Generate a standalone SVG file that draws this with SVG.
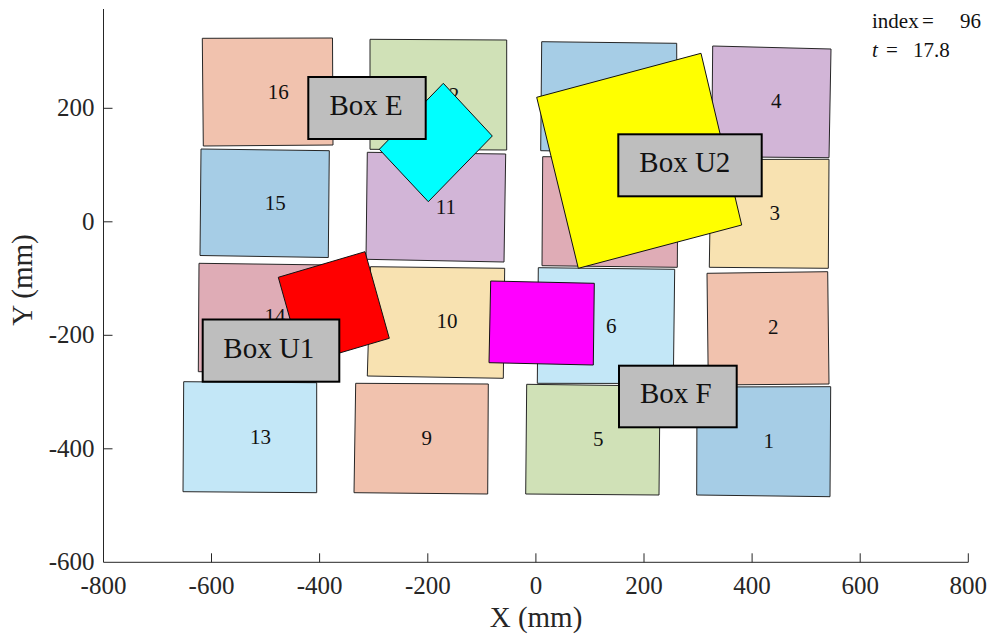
<svg xmlns="http://www.w3.org/2000/svg" width="992" height="638" viewBox="0 0 992 638">
  <style>
    .box { stroke: #262626; stroke-width: 1; stroke-linejoin: miter; }
    .salmon { fill: #f1c2ae; }
    .green { fill: #d0e1b7; }
    .blue { fill: #a6cde6; }
    .purple { fill: #d2b5d7; }
    .tan { fill: #f8e2b1; }
    .pink { fill: #dfacb6; }
    .sky { fill: #c3e7f7; }
    .num { font-family: "Liberation Serif", "DejaVu Serif", serif; font-size: 21px; fill: #111; dominant-baseline: central; }
    .obj { stroke: #111; stroke-width: 1; }
    .tag rect { fill: #bebebe; stroke: #000; stroke-width: 2; }
    .tag text { font-family: "Liberation Serif", "DejaVu Serif", serif; font-size: 29px; fill: #111; }
    .axis { stroke: #262626; stroke-width: 1; fill: none; }
    .tick { font-family: "Liberation Serif", "DejaVu Serif", serif; font-size: 25px; fill: #262626; }
    .label { font-family: "Liberation Serif", "DejaVu Serif", serif; font-size: 29px; fill: #262626; text-anchor: middle; }
    .info { font-family: "Liberation Serif", "DejaVu Serif", serif; font-size: 21px; fill: #111; }
  </style>
  <rect width="992" height="638" fill="#ffffff"/>

  <!-- axes -->
  <g id="axes">
    <path class="axis" d="M103.5,9 V562.3 H968.3"/>
    <path class="axis" d="M103.5,108.3 h9 M103.5,221.8 h9 M103.5,335.3 h9 M103.5,448.8 h9
                          M211.5,562.3 v-9 M319.6,562.3 v-9 M427.8,562.3 v-9 M535.9,562.3 v-9
                          M644,562.3 v-9 M752.1,562.3 v-9 M860.2,562.3 v-9 M968.3,562.3 v-9"/>
    <g class="tick" text-anchor="end">
      <text x="94.5" y="116">200</text>
      <text x="94.5" y="229.5">0</text>
      <text x="94.5" y="343">-200</text>
      <text x="94.5" y="456.5">-400</text>
      <text x="94.5" y="570">-600</text>
    </g>
    <g class="tick" text-anchor="middle">
      <text x="103.5" y="594">-800</text>
      <text x="211.5" y="594">-600</text>
      <text x="319.6" y="594">-400</text>
      <text x="427.8" y="594">-200</text>
      <text x="535.9" y="594">0</text>
      <text x="644" y="594">200</text>
      <text x="752.1" y="594">400</text>
      <text x="860.2" y="594">600</text>
      <text x="968.3" y="594">800</text>
    </g>
    <text class="label" x="536" y="627">X (mm)</text>
    <text class="label" transform="translate(32,280) rotate(-90)">Y (mm)</text>
  </g>

  <!-- numbered tiles -->
  <g id="box16"><polygon class="box salmon" points="202.3,38.3 332.5,38 333,145 203.3,146"/><text class="num" x="267.7" y="91.5">16</text></g>
  <g id="box12"><polygon class="box green" points="370,39.3 506.7,40 506.7,150 370,149.3"/><text class="num" x="438.3" y="94.5">12</text></g>
  <g id="box7"><polygon class="box blue" points="541.7,41.7 676.7,43.3 677,153 540.7,150.7"/></g>
  <g id="box4"><polygon class="box purple" points="712.7,46 831,49 829,157.7 711.7,156.7"/><text class="num" x="771.1" y="101">4</text></g>
  <g id="box15"><polygon class="box blue" points="201,149 329.3,150.7 328.3,257.5 200,255.5"/><text class="num" x="264.7" y="203">15</text></g>
  <g id="box11"><polygon class="box purple" points="367.3,152.3 505.7,154 504,262 366,259.3"/><text class="num" x="435.8" y="206.5">11</text></g>
  <g id="box8"><polygon class="box pink" points="542.7,156.7 678,157.5 677.3,267.3 542,265.7"/></g>
  <g id="box3"><polygon class="box tan" points="711,159.5 829,159.3 828.3,268.3 709.3,267.3"/><text class="num" x="769.4" y="213">3</text></g>
  <g id="box14"><polygon class="box pink" points="199,263.3 330.5,265 331,373 198.3,371.7"/><text class="num" x="264.5" y="316">14</text></g>
  <g id="box10"><polygon class="box tan" points="370.5,266.7 504.7,268.3 503.3,378.3 367.3,376"/><text class="num" x="436.5" y="321">10</text></g>
  <g id="box6"><polygon class="box sky" points="538.3,267.7 674.7,269.3 673.3,383.5 537.3,383.3"/><text class="num" x="605.9" y="325.5">6</text></g>
  <g id="box2"><polygon class="box salmon" points="707,273.3 827.7,271.7 829,384 708.3,385"/><text class="num" x="768" y="327">2</text></g>
  <g id="box13"><polygon class="box sky" points="183.7,381.7 316.7,382.7 316.7,492.7 183,491.7"/><text class="num" x="250" y="436.5">13</text></g>
  <g id="box9"><polygon class="box salmon" points="355.7,383.3 488.3,384 487.7,494 354,492.7"/><text class="num" x="421.4" y="437.5">9</text></g>
  <g id="box5"><polygon class="box green" points="526.7,384.3 660,386 659,495 525.7,494"/><text class="num" x="592.9" y="439">5</text></g>
  <g id="box1"><polygon class="box blue" points="697,387 830.7,386.7 830,496.7 696.7,495"/><text class="num" x="763.6" y="440.5">1</text></g>

  <!-- moving objects -->
  <g id="yellow"><polygon class="obj" fill="#ffff00" points="536.7,97.3 701,53.3 741.7,225 578.3,268.3"/></g>
  <g id="cyan"><polygon class="obj" fill="#00ffff" points="443.3,83.3 492.3,136 428.3,201.7 379.3,149.3"/></g>
  <g id="red"><polygon class="obj" fill="#ff0000" points="278.3,277.3 365,251.7 389.3,338.3 302.6,363.9"/></g>
  <g id="magenta"><polygon class="obj" fill="#ff00ff" points="490.7,281 594.3,283.3 593.3,365 489,362.7"/></g>

  <!-- name tags -->
  <g id="boxE" class="tag"><rect x="308.3" y="77" width="117.4" height="62"/><text x="329.5" y="115">Box E</text></g>
  <g id="boxU2" class="tag"><rect x="618.3" y="134.3" width="143.4" height="62"/><text x="639.3" y="172">Box U2</text></g>
  <g id="boxU1" class="tag"><rect x="202.7" y="319.5" width="136.6" height="62.2"/><text x="223.3" y="358.3">Box U1</text></g>
  <g id="boxF" class="tag"><rect x="619" y="365.7" width="117.7" height="61.6"/><text x="640" y="403.3">Box F</text></g>

  <!-- status readout -->
  <g id="status" class="info">
    <text y="28.3"><tspan x="872">index</tspan><tspan x="922">=</tspan><tspan x="960">96</tspan></text>
    <text y="56.5"><tspan x="872" font-style="italic">t</tspan><tspan x="886">=</tspan><tspan x="913">17.8</tspan></text>
  </g>
</svg>
